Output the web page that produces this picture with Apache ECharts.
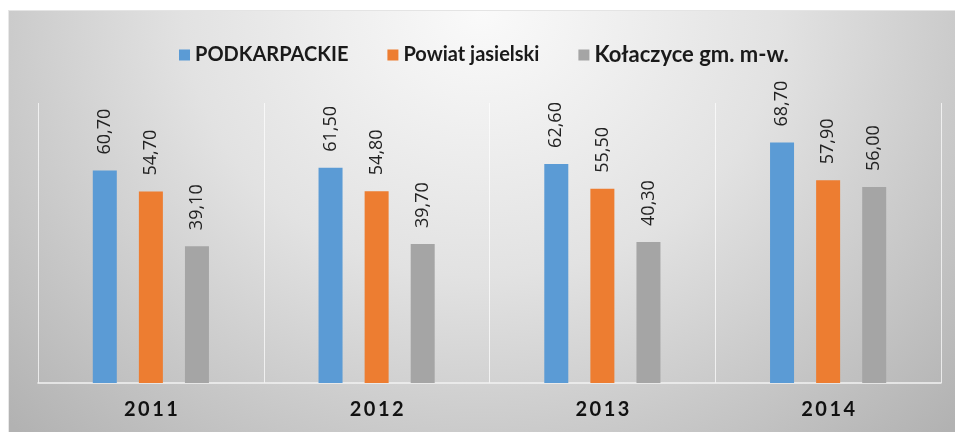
<!DOCTYPE html>
<html>
<head>
<meta charset="utf-8">
<script src="https://cdn.jsdelivr.net/npm/echarts@6/dist/echarts.min.js"></script>
<style>
  html, body { margin: 0; padding: 0; background: #ffffff; }
  .frame {
    position: absolute;
    left: 8px;
    top: 10px;
    width: 947px;
    height: 422px;
    background: radial-gradient(ellipse 70% 140% at 50% 0%, #fafafa 0%, #e2e2e2 45%, #b2b2b2 100%);
    border-top: 1px solid #e4e4e4;
    border-left: 1px solid #e8e8e8;
    box-sizing: border-box;
  }
  #chart { width: 100%; height: 100%; }
</style>
</head>
<body>
<div class="frame"><div id="chart"></div></div>
<script>
const years = ['2011', '2012', '2013', '2014']
const podkarpackie = [60.7, 61.5, 62.6, 68.7]
const powiatJasielski = [54.7, 54.8, 55.5, 57.9]
const kolaczyce = [39.1, 39.7, 40.3, 56.0]

const seriesNames = ['PODKARPACKIE', 'Powiat jasielski', 'Kołaczyce gm. m-w.']
const seriesColors = ['#5b9bd5', '#ed7d31', '#a5a5a5']

function formatValue(p) {
  return p.value.toFixed(2).replace('.', ',')
}

function makeSeries(name, data, color) {
  return {
    name,
    type: 'bar',
    data,
    barWidth: 24,
    barGap: '92%',
    itemStyle: { color },
    label: {
      show: true,
      position: 'top',
      rotate: 90,
      align: 'left',
      verticalAlign: 'middle',
      distance: 16,
      color: '#222222',
      fontFamily: 'Open Sans',
      fontSize: 18,
      formatter: formatValue
    }
  }
}

const chart = echarts.init(document.getElementById('chart'), null, { renderer: 'canvas' })

chart.setOption({
  animation: false,
  legend: {
    top: 28,
    left: 165,
    itemWidth: 11,
    itemHeight: 11,
    itemGap: 39,
    icon: 'rect',
    data: [
      seriesNames[0],
      seriesNames[1],
      { name: seriesNames[2], textStyle: { fontSize: 22 } }
    ],
    textStyle: {
      color: '#1a1a1a',
      fontFamily: 'Lato',
      fontWeight: 'bold',
      fontSize: 20
    }
  },
  grid: {
    left: 29,
    right: 14,
    top: 92,
    bottom: 49
  },
  xAxis: {
    type: 'category',
    data: years,
    axisTick: { show: false },
    axisLine: { lineStyle: { color: '#f2f2f2', width: 1.5 } },
    splitLine: {
      show: true,
      interval: 0,
      lineStyle: { color: 'rgba(255, 255, 255, 0.7)' }
    },
    axisLabel: {
      margin: 17,
      color: '#111111',
      fontFamily: 'Lato',
      fontWeight: 'bold',
      fontSize: 20,
      formatter: (v) => v.split('').join('\u2009')
    }
  },
  yAxis: {
    type: 'value',
    min: 0,
    max: 80,
    show: false,
    splitLine: { show: false }
  },
  series: [
    makeSeries(seriesNames[0], podkarpackie, seriesColors[0]),
    makeSeries(seriesNames[1], powiatJasielski, seriesColors[1]),
    makeSeries(seriesNames[2], kolaczyce, seriesColors[2])
  ]
})
</script>
</body>
</html>
